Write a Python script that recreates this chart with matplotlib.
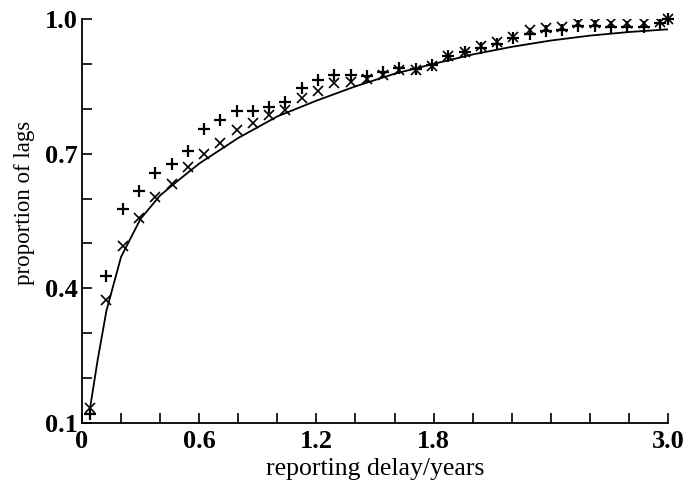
import numpy as np
import matplotlib
matplotlib.use("Agg")
import matplotlib.pyplot as plt

# monthly mid-points (years)
months = np.arange(1, 37)
x_pts = (months - 0.5) / 12.0

plus_vals = [0.120, 0.428, 0.576, 0.616, 0.656, 0.676, 0.707, 0.754, 0.775, 0.795,
             0.795, 0.805, 0.816, 0.846, 0.864, 0.875, 0.875, 0.874, 0.881, 0.890,
             0.889, 0.897, 0.918, 0.926, 0.935, 0.944, 0.957, 0.966, 0.973, 0.975,
             0.985, 0.985, 0.983, 0.983, 0.983, 0.990]
cross_vals = [0.134, 0.373, 0.494, 0.557, 0.603, 0.632, 0.671, 0.699, 0.723, 0.753,
              0.769, 0.786, 0.797, 0.823, 0.840, 0.857, 0.860, 0.866, 0.876, 0.886,
              0.887, 0.895, 0.918, 0.926, 0.940, 0.948, 0.961, 0.975, 0.981, 0.983,
              0.992, 0.992, 0.990, 0.990, 0.990, 0.993]
end_x = [3.0]
end_val = [1.0]

curve_x = [0.04, 0.08, 0.125, 0.2, 0.3, 0.4, 0.5, 0.6, 0.8, 1.0, 1.2, 1.4, 1.6,
           1.8, 2.0, 2.2, 2.4, 2.6, 2.8, 3.0]
curve_y = [0.13, 0.24, 0.35, 0.47, 0.555, 0.607, 0.643, 0.678, 0.735, 0.783, 0.818,
           0.850, 0.878, 0.900, 0.921, 0.938, 0.952, 0.963, 0.971, 0.977]

xtick_labels = {0.0: "0", 0.6: "0.6", 1.2: "1.2", 1.8: "1.8", 3.0: "3.0"}
ytick_labels = {0.1: "0.1", 0.4: "0.4", 0.7: "0.7", 1.0: "1.0"}

plt.rcParams['font.family'] = ['Liberation Serif', 'DejaVu Serif']

fig = plt.figure(figsize=(6.85, 4.88), dpi=100)
ax = fig.add_axes([82/685, (488-423)/488, 586/685, 404/488])

ax.plot(curve_x, curve_y, color='black', lw=1.3)
ax.plot(x_pts, plus_vals, linestyle='none', marker='+', ms=8, mew=1.6, color='black')
ax.plot(x_pts, cross_vals, linestyle='none', marker='x', ms=7, mew=1.2, color='black')
ax.plot(end_x, end_val, linestyle='none', marker='+', ms=8, mew=1.6, color='black', clip_on=False)
ax.plot(end_x, end_val, linestyle='none', marker='x', ms=7, mew=1.2, color='black', clip_on=False)

ax.set_xlim(0, 3.0)
ax.set_ylim(0.1, 1.0)

xt = np.round(np.arange(0, 3.01, 0.2), 2)
ax.set_xticks(xt)
ax.set_xticklabels([xtick_labels.get(round(v, 1), "") for v in xt])
yt = np.round(np.arange(0.1, 1.01, 0.1), 2)
ax.set_yticks(yt)
ax.set_yticklabels([ytick_labels.get(round(v, 1), "") for v in yt])

for s in ['top', 'right']:
    ax.spines[s].set_visible(False)
for s in ['left', 'bottom']:
    ax.spines[s].set_linewidth(1.3)

ax.tick_params(direction='in', length=7, width=1.2, labelsize=19)
ax.tick_params(axis='x', pad=5)
ax.tick_params(axis='y', pad=3)
for lab in ax.get_xticklabels() + ax.get_yticklabels():
    lab.set_fontweight('bold')

ax.set_xlabel("reporting delay/years", fontsize=18.5, labelpad=4)
ax.set_ylabel("proportion of lags", fontsize=16.5, labelpad=6)
ax.yaxis.set_label_coords(-0.08, 0.545)

fig.savefig("out.png", dpi=100)
